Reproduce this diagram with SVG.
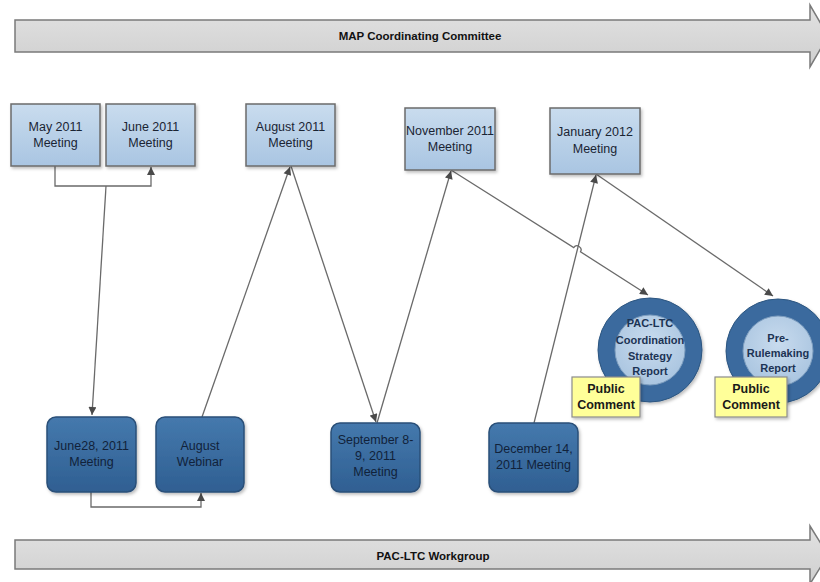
<svg xmlns="http://www.w3.org/2000/svg" width="820" height="582" viewBox="0 0 820 582">
  <defs>
    <linearGradient id="bannerFill" x1="0" y1="0" x2="0" y2="1">
      <stop offset="0" stop-color="#e2e2e2"/>
      <stop offset="1" stop-color="#cfcfcf"/>
    </linearGradient>
    <linearGradient id="lightBox" x1="0" y1="0" x2="0" y2="1">
      <stop offset="0" stop-color="#c9dcee"/>
      <stop offset="1" stop-color="#a9c5e2"/>
    </linearGradient>
    <linearGradient id="darkBox" x1="0" y1="0" x2="0" y2="1">
      <stop offset="0" stop-color="#4579ad"/>
      <stop offset="1" stop-color="#2f5f92"/>
    </linearGradient>
    <radialGradient id="ringInner" cx="0.5" cy="0.4" r="0.6">
      <stop offset="0" stop-color="#c8dbee"/>
      <stop offset="1" stop-color="#aac5e0"/>
    </radialGradient>
    <marker id="arrow" viewBox="0 0 10 10" refX="10" refY="5" markerWidth="10" markerHeight="8" markerUnits="userSpaceOnUse" orient="auto">
      <path d="M0,0 L10,5 L0,10 z" fill="#4a4a4a"/>
    </marker>
    <filter id="shadow" x="-10%" y="-10%" width="130%" height="130%">
      <feDropShadow dx="1.5" dy="2" stdDeviation="1.5" flood-color="#000" flood-opacity="0.25"/>
    </filter>
  </defs>
  <style>
    .banner { fill: url(#bannerFill); stroke: #7a7a7a; stroke-width: 1.5; }
    .bannerText { font-family: "Liberation Sans", Arial, sans-serif; font-weight: bold; font-size: 11.5px; fill: #111; text-anchor: middle; }
    .light { fill: url(#lightBox); stroke: #6b6b6b; stroke-width: 1.5; filter: url(#shadow); }
    .dark { fill: url(#darkBox); stroke: #2a4f78; stroke-width: 1.5; filter: url(#shadow); }
    .lt { font-family: "Liberation Sans", Arial, sans-serif; font-size: 12.5px; fill: #1a2433; text-anchor: middle; }
    .dt { font-family: "Liberation Sans", Arial, sans-serif; font-size: 12.5px; fill: #11223a; text-anchor: middle; }
    .ringOuter { fill: #3a6b9e; stroke: #2c5580; stroke-width: 1; filter: url(#shadow); }
    .ringIn { fill: url(#ringInner); stroke: #7f9fc0; stroke-width: 1; }
    .ct { font-family: "Liberation Sans", Arial, sans-serif; font-weight: bold; font-size: 11px; fill: #1c3354; text-anchor: middle; }
    .note { fill: #ffff99; stroke: #8c8c8c; stroke-width: 1.2; filter: url(#shadow); }
    .nt { font-family: "Liberation Sans", Arial, sans-serif; font-weight: bold; font-size: 12.5px; fill: #1a1a1a; text-anchor: middle; }
    .conn { fill: none; stroke: #6a6a6a; stroke-width: 1.3; }
    .arr { marker-end: url(#arrow); }
  </style>

  <rect width="820" height="582" fill="#ffffff"/>

  <!-- Timeline banners -->
  <g id="map-committee">
    <polygon class="banner" points="15,20 810,20 810,5 828,36 810,67 810,52 15,52"/>
    <text class="bannerText" x="420" y="40">MAP Coordinating Committee</text>
  </g>
  <g id="pac-ltc-workgroup">
    <polygon class="banner" points="15,540 810,540 810,526 828,555 810,584 810,569 15,569"/>
    <text class="bannerText" x="433" y="560">PAC-LTC Workgroup</text>
  </g>

  <!-- Connectors -->
  <g id="connectors">
    <polyline class="conn arr" points="55,166 55,186 151,186 151,167"/>
    <line class="conn arr" x1="106" y1="186" x2="92" y2="415"/>
    <polyline class="conn arr" points="91,492 91,507 201,507 201,493"/>
    <line class="conn arr" x1="202" y1="417" x2="290" y2="167"/>
    <line class="conn arr" x1="291" y1="166" x2="376" y2="422"/>
    <line class="conn arr" x1="377" y1="423" x2="451" y2="171"/>
    <path class="conn arr" d="M451,170 L573.7,247.6 A4,4 0 0 1 580.5,251.8 L648,295"/>
    <line class="conn arr" x1="534" y1="423" x2="596" y2="175"/>
    <line class="conn arr" x1="596" y1="174" x2="773" y2="296"/>
  </g>

  <!-- MAP Coordinating Committee meetings -->
  <g id="may-2011">
    <rect class="light" x="11" y="104" width="89" height="62"/>
    <text class="lt" x="55.5" y="131">May 2011</text>
    <text class="lt" x="55.5" y="147">Meeting</text>
  </g>
  <g id="june-2011">
    <rect class="light" x="106" y="104" width="89" height="62"/>
    <text class="lt" x="150.5" y="131">June 2011</text>
    <text class="lt" x="150.5" y="147">Meeting</text>
  </g>
  <g id="august-2011">
    <rect class="light" x="246" y="104" width="89" height="62"/>
    <text class="lt" x="290.5" y="131">August 2011</text>
    <text class="lt" x="290.5" y="147">Meeting</text>
  </g>
  <g id="november-2011">
    <rect class="light" x="405" y="108" width="90" height="62"/>
    <text class="lt" x="450" y="135">November 2011</text>
    <text class="lt" x="450" y="151">Meeting</text>
  </g>
  <g id="january-2012">
    <rect class="light" x="550" y="108" width="90" height="66"/>
    <text class="lt" x="595" y="136">January 2012</text>
    <text class="lt" x="595" y="153">Meeting</text>
  </g>

  <!-- PAC-LTC Workgroup meetings -->
  <g id="june28-2011">
    <rect class="dark" x="47" y="417" width="89" height="75" rx="9"/>
    <text class="dt" x="91.5" y="450">June28, 2011</text>
    <text class="dt" x="91.5" y="466">Meeting</text>
  </g>
  <g id="august-webinar">
    <rect class="dark" x="156" y="417" width="88" height="75" rx="9"/>
    <text class="dt" x="200" y="450">August</text>
    <text class="dt" x="200" y="466">Webinar</text>
  </g>
  <g id="september-2011">
    <rect class="dark" x="331" y="423" width="89" height="69" rx="9"/>
    <text class="dt" x="375.5" y="444">September 8-</text>
    <text class="dt" x="375.5" y="460">9, 2011</text>
    <text class="dt" x="375.5" y="476">Meeting</text>
  </g>
  <g id="december-2011">
    <rect class="dark" x="489" y="423" width="89" height="69" rx="9"/>
    <text class="dt" x="533.5" y="453">December 14,</text>
    <text class="dt" x="533.5" y="469">2011 Meeting</text>
  </g>

  <!-- Reports -->
  <g id="coordination-report">
    <circle class="ringOuter" cx="650" cy="350" r="52"/>
    <circle class="ringIn" cx="650" cy="350" r="35"/>
    <text class="ct" x="650" y="327">PAC-LTC</text>
    <text class="ct" x="650" y="344">Coordination</text>
    <text class="ct" x="650" y="360">Strategy</text>
    <text class="ct" x="650" y="375">Report</text>
  </g>
  <g id="coordination-comment">
    <rect class="note" x="572" y="377" width="68" height="40"/>
    <text class="nt" x="606" y="393">Public</text>
    <text class="nt" x="606" y="409">Comment</text>
  </g>
  <g id="prerulemaking-report">
    <circle class="ringOuter" cx="778" cy="351" r="52"/>
    <circle class="ringIn" cx="778" cy="351" r="35"/>
    <text class="ct" x="778" y="342">Pre-</text>
    <text class="ct" x="778" y="357">Rulemaking</text>
    <text class="ct" x="778" y="372">Report</text>
  </g>
  <g id="prerulemaking-comment">
    <rect class="note" x="715" y="377" width="72" height="40"/>
    <text class="nt" x="751" y="393">Public</text>
    <text class="nt" x="751" y="409">Comment</text>
  </g>
</svg>
